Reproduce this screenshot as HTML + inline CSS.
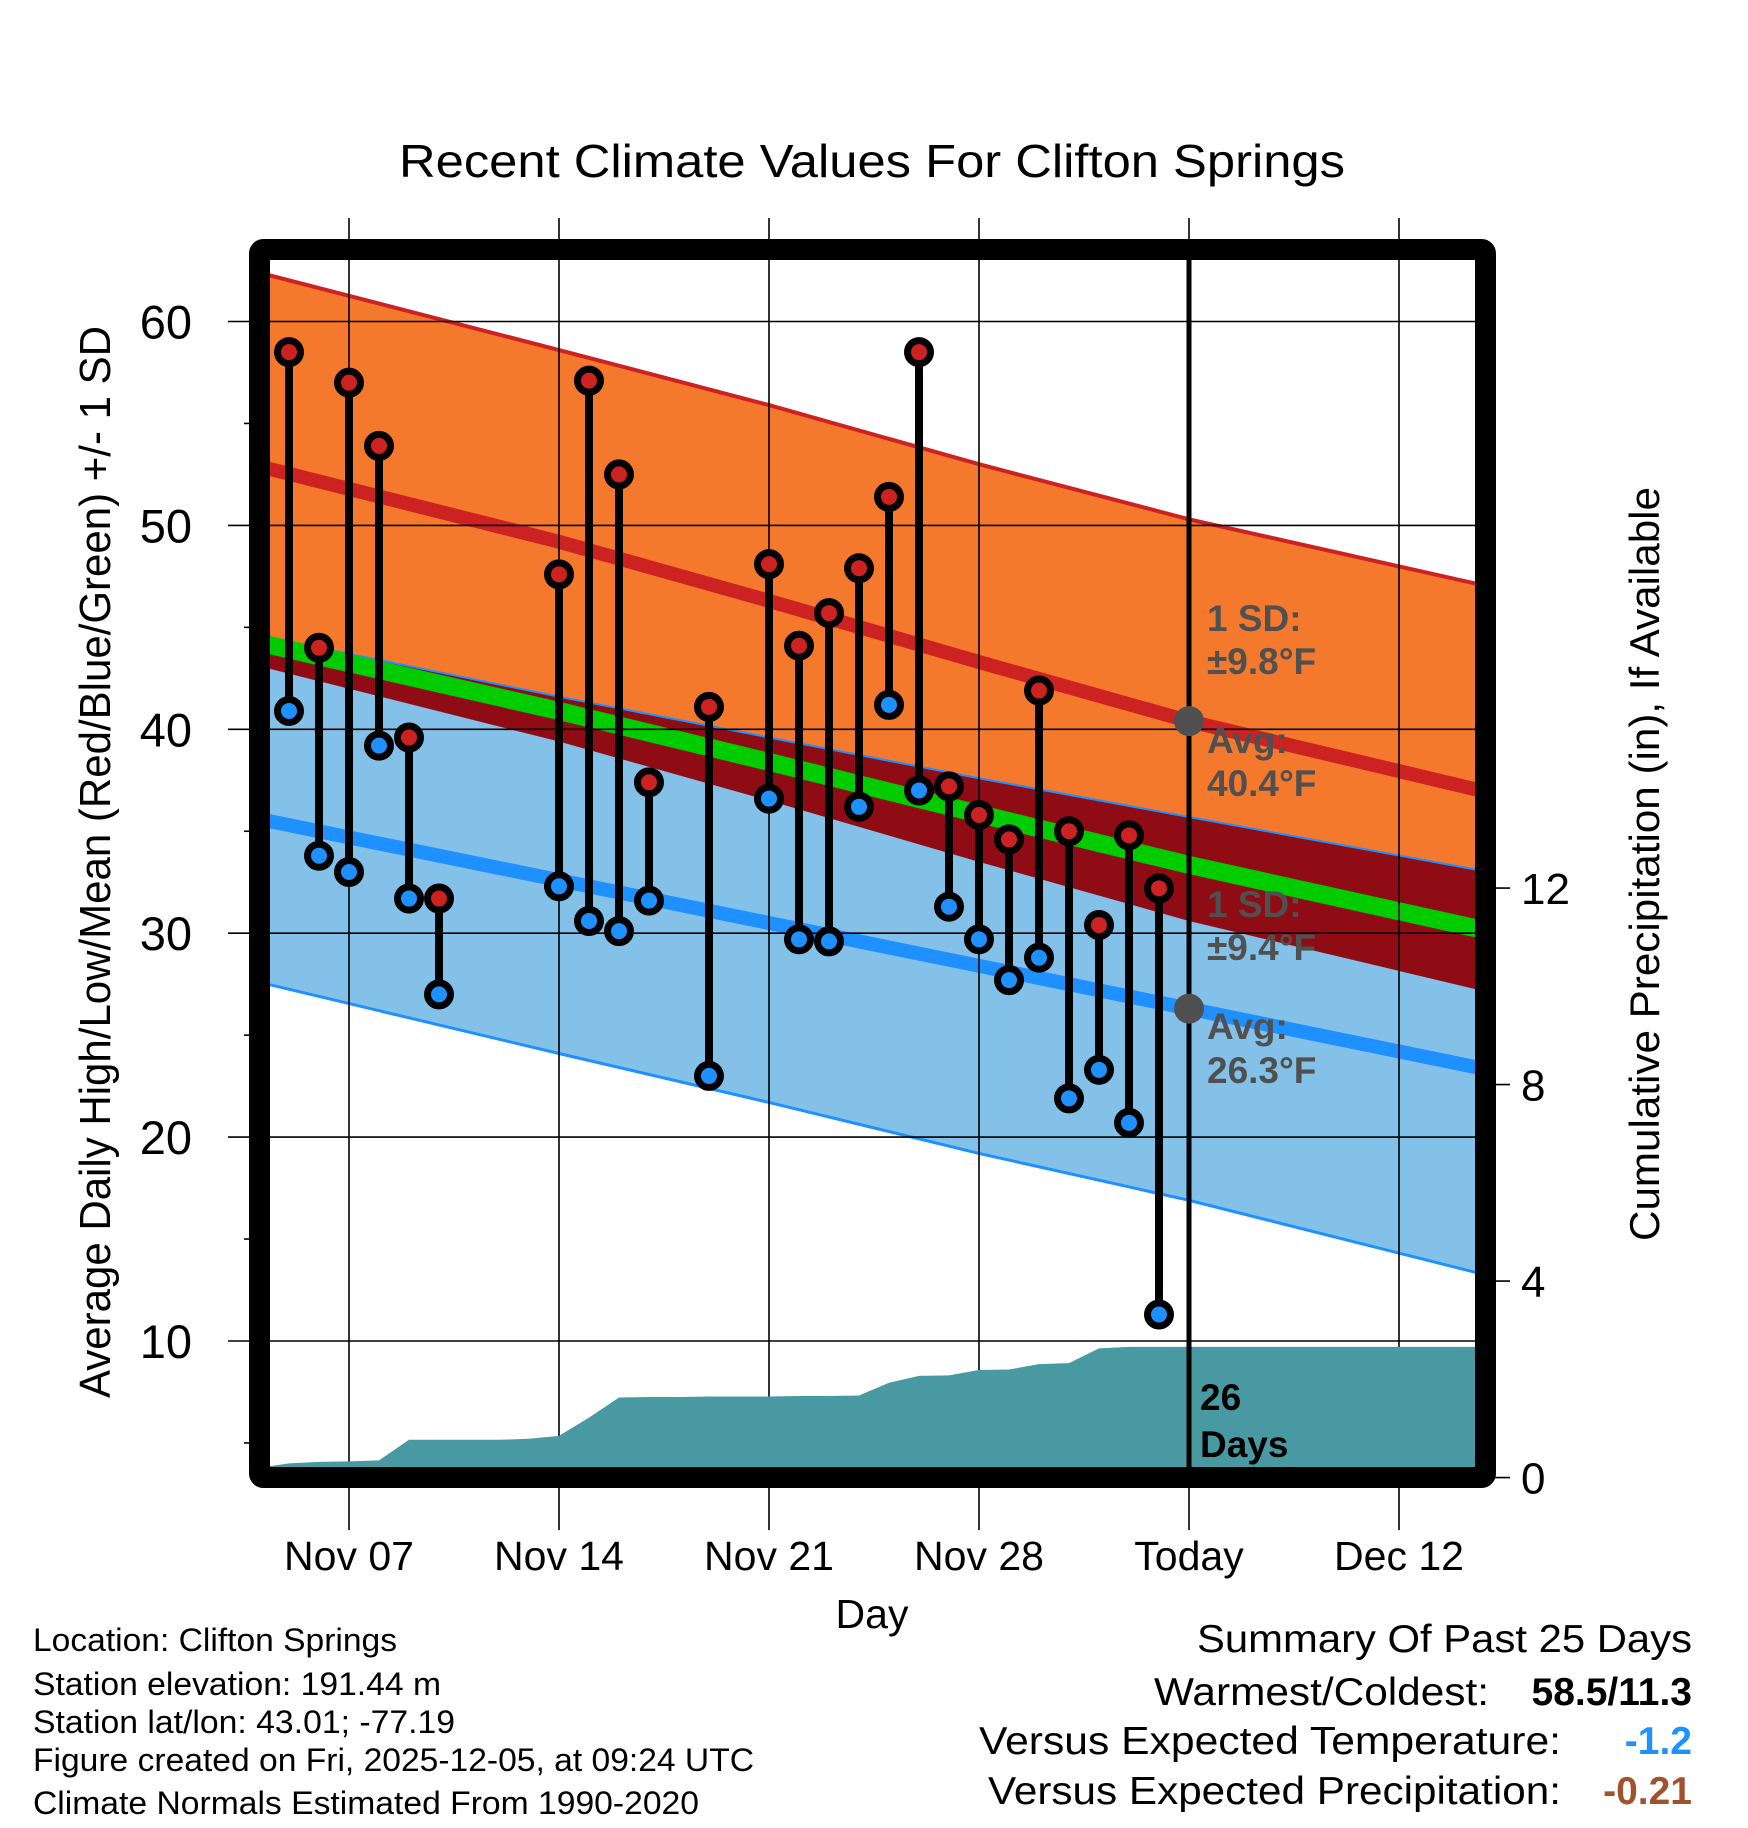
<!DOCTYPE html>
<html><head><meta charset="utf-8"><title>Recent Climate Values For Clifton Springs</title>
<style>
html,body{margin:0;padding:0;background:#fff;}
svg{display:block;font-family:"Liberation Sans",Arial,sans-serif;}
</style></head>
<body>
<svg id="chart" xmlns="http://www.w3.org/2000/svg" width="1748" height="1828" viewBox="0 0 1748 1828">
<defs><clipPath id="plotclip"><rect x="270" y="260" width="1207" height="1208"/></clipPath></defs>
<rect x="0" y="0" width="1748" height="1828" fill="#fff"/>
<text x="872" y="177" font-size="46" text-anchor="middle" textLength="946" lengthAdjust="spacingAndGlyphs">Recent Climate Values For Clifton Springs</text>
<g id="bands" clip-path="url(#plotclip)"></g>
<g id="grid"></g>
<g id="precip" clip-path="url(#plotclip)"></g>
<g id="today"></g>
<g id="stems"></g>
<g id="annot" font-weight="bold" font-size="37" fill="#505050">
<text x="1207" y="631">1 SD:</text>
<text x="1207" y="674">±9.8°F</text>
<text x="1207" y="753">Avg:</text>
<text x="1207" y="796">40.4°F</text>
<text x="1207" y="917">1 SD:</text>
<text x="1207" y="960">±9.4°F</text>
<text x="1207" y="1039">Avg:</text>
<text x="1207" y="1083">26.3°F</text>
</g>
<g font-weight="bold" font-size="37" fill="#000">
<text x="1200" y="1410">26</text>
<text x="1200" y="1457">Days</text>
</g>
<rect x="259.5" y="249.5" width="1226" height="1228" fill="none" stroke="#000" stroke-width="21" rx="4"/>
<g id="axes"></g>
<text transform="translate(110,862) rotate(-90)" font-size="44" text-anchor="middle" textLength="1072" lengthAdjust="spacingAndGlyphs">Average Daily High/Low/Mean (Red/Blue/Green) +/- 1 SD</text>
<text transform="translate(1659,864) rotate(-90)" font-size="42" text-anchor="middle" textLength="754" lengthAdjust="spacingAndGlyphs">Cumulative Precipitation (in), If Available</text>
<text x="872" y="1628" font-size="41" text-anchor="middle">Day</text>
<g font-size="32">
<text x="33" y="1651" textLength="364" lengthAdjust="spacingAndGlyphs">Location: Clifton Springs</text>
<text x="33" y="1695" textLength="408" lengthAdjust="spacingAndGlyphs">Station elevation: 191.44 m</text>
<text x="33" y="1733" textLength="422" lengthAdjust="spacingAndGlyphs">Station lat/lon: 43.01; -77.19</text>
<text x="33" y="1771" textLength="721" lengthAdjust="spacingAndGlyphs">Figure created on Fri, 2025-12-05, at 09:24 UTC</text>
<text x="33" y="1814" textLength="666" lengthAdjust="spacingAndGlyphs">Climate Normals Estimated From 1990-2020</text>
</g>
<g font-size="39">
<text x="1197" y="1652" textLength="495" lengthAdjust="spacingAndGlyphs">Summary Of Past 25 Days</text>
<text x="1154" y="1705" textLength="335" lengthAdjust="spacingAndGlyphs">Warmest/Coldest:</text>
<text x="1692" y="1705" text-anchor="end" font-weight="bold">58.5/11.3</text>
<text x="979" y="1754" textLength="582" lengthAdjust="spacingAndGlyphs">Versus Expected Temperature:</text>
<text x="1692" y="1754" text-anchor="end" font-weight="bold" fill="#1e90ff">-1.2</text>
<text x="988" y="1804" textLength="573" lengthAdjust="spacingAndGlyphs">Versus Expected Precipitation:</text>
<text x="1692" y="1804" text-anchor="end" font-weight="bold" fill="#a0522d">-0.21</text>
</g>
</svg>
<script>
// ---- data ----
const obsDays = [5,6,7,8,9,10,14,15,16,17,19,21,22,23,24,25,26,27,28,29,30,31,32,33,34]; // day of Nov (Dec k = 30+k)
const highs = [58.5,44.0,57.0,53.9,39.6,31.7,47.6,57.1,52.5,37.4,41.1,48.1,44.1,45.7,47.9,51.4,58.5,37.2,35.8,34.6,41.9,35.0,30.4,34.8,32.2];
const lows  = [40.9,33.8,33.0,39.2,31.7,27.0,32.3,30.6,30.1,31.6,23.0,36.6,29.7,29.6,36.2,41.2,37.0,31.3,29.7,27.7,28.8,21.9,23.3,20.7,11.3];
const normDays = [4,14,21,28,35,45];
const highUpper = [62.4,58.6,55.9,53.0,50.3,47.0];
const highMean  = [52.9,49.2,46.3,43.3,40.4,36.9];
const highLower = [43.1,39.4,36.5,33.5,30.6,27.1];
const lowUpper  = [44.6,41.6,39.6,37.6,35.7,33.0];
const lowMean   = [35.6,32.6,30.5,28.4,26.3,23.3];
const lowLower  = [27.6,24.1,21.7,19.2,16.9,13.2];
const precipStartDay = 4;
const precipCum = [0.20,0.29,0.32,0.33,0.35,0.77,0.77,0.77,0.77,0.79,0.85,1.22,1.63,1.64,1.64,1.65,1.65,1.65,1.66,1.66,1.67,1.93,2.07,2.08,2.19,2.20,2.31,2.33,2.63,2.66,2.66];
const xTickDays = [7,14,21,28,35,42];
const xTickLabels = ["Nov 07","Nov 14","Nov 21","Nov 28","Today","Dec 12"];
const yTicks = [10,20,30,40,50,60];
const yMinor = [5,15,25,35,45,55];
const pTicks = [0,4,8,12];
const todayDay = 35;

// ---- scales ----
const NS = "http://www.w3.org/2000/svg";
function xS(d){ return 349 + (d-7)*30; }
function yT(v){ return 1341 + (10 - v)*20.39; }
function yP(p){ return 1477.6 - p*49.13; }
function mk(tag, attrs, parent){ const e=document.createElementNS(NS,tag); for(const k in attrs) e.setAttribute(k,attrs[k]); parent.appendChild(e); return e; }
function linePts(arr){ return normDays.map((d,i)=>xS(d)+","+yT(arr[i])).join(" "); }
function bandPts(top,bot){ const a=normDays.map((d,i)=>xS(d)+","+yT(top[i])); const b=normDays.map((d,i)=>xS(d)+","+yT(bot[i])).reverse(); return a.concat(b).join(" "); }

const bands=document.getElementById("bands");
let e;
e=mk("polygon",{points:bandPts(highUpper,highLower),fill:"#f5792d"},bands);
 
e=mk("polygon",{points:bandPts(lowUpper,lowLower),fill:"#84c1e8"},bands);
 
const ovTop=normDays.map((d,i)=>Math.min(lowUpper[i],highUpper[i]));
const ovBot=normDays.map((d,i)=>Math.max(highLower[i],lowLower[i]));
e=mk("polygon",{points:bandPts(ovTop,ovBot),fill:"#900c14"},bands);
 
e=mk("polyline",{points:linePts(lowUpper),fill:"none",stroke:"#1e90ff","stroke-width":2},bands);
 
e=mk("polyline",{points:linePts(lowLower),fill:"none",stroke:"#1e90ff","stroke-width":3},bands);
 
e=mk("polyline",{points:linePts(highUpper),fill:"none",stroke:"#cc2222","stroke-width":4},bands);
 
e=mk("polyline",{points:linePts(highMean),fill:"none",stroke:"#cc2222","stroke-width":14},bands);
 
e=mk("polyline",{points:linePts(lowMean),fill:"none",stroke:"#1e90ff","stroke-width":14},bands);
 
const midMean=normDays.map((d,i)=>(highMean[i]+lowMean[i])/2);
e=mk("polyline",{points:linePts(midMean),fill:"none",stroke:"#00cc00","stroke-width":18},bands);
 

// grid
const grid=document.getElementById("grid");
xTickDays.forEach((d,i)=>{
  if(d===todayDay) return;
  const g=mk("line",{x1:xS(d),x2:xS(d),y1:218,y2:1530,stroke:"#000","stroke-width":1.6},grid);
   
});
yTicks.forEach(v=>{
  const g=mk("line",{x1:228,x2:1477,y1:yT(v),y2:yT(v),stroke:"#000","stroke-width":1.6},grid);
   
});

// precip
const pr=document.getElementById("precip");
const ppts=[];
precipCum.forEach((p,i)=>ppts.push(xS(precipStartDay+i)+","+yP(p)));
ppts.push(xS(47)+","+yP(precipCum[precipCum.length-1]));
ppts.push(xS(47)+","+yP(0)); ppts.push(xS(precipStartDay)+","+yP(0));
e=mk("polygon",{points:ppts.join(" "),fill:"#4899a2"},pr);
 

// today line
const td=document.getElementById("today");
e=mk("line",{x1:xS(todayDay),x2:xS(todayDay),y1:218,y2:1530,stroke:"#000","stroke-width":1.6},td);
 
e=mk("line",{x1:xS(todayDay),x2:xS(todayDay),y1:260,y2:1468,stroke:"#000","stroke-width":5},td);
 
e=mk("circle",{cx:xS(todayDay),cy:yT(highMean[4]),r:15,fill:"#505050"},td);
 
e=mk("circle",{cx:xS(todayDay),cy:yT(lowMean[4]),r:15,fill:"#505050"},td);
 

// stems
const st=document.getElementById("stems");
obsDays.forEach((d,i)=>{
  const x=xS(d);
  const l=mk("line",{x1:x,x2:x,y1:yT(highs[i]),y2:yT(lows[i]),stroke:"#000","stroke-width":8},st);
   
  const h=mk("circle",{cx:x,cy:yT(highs[i]),r:11.5,fill:"#cc2222",stroke:"#000","stroke-width":7},st);
   
  const lo=mk("circle",{cx:x,cy:yT(lows[i]),r:11.5,fill:"#1e90ff",stroke:"#000","stroke-width":7},st);
   
});

// axes ticks & labels
const ax=document.getElementById("axes");
yTicks.forEach(v=>{
  const t=mk("text",{x:192,y:yT(v)+17,"font-size":47,"text-anchor":"end"},ax);
  t.textContent=String(v);
   
});
yMinor.forEach(v=>{
  const t=mk("line",{x1:244,x2:250,y1:yT(v),y2:yT(v),stroke:"#000","stroke-width":1.6},ax);
   
});
pTicks.forEach(p=>{
  const t=mk("line",{x1:1486,x2:1510,y1:yP(p),y2:yP(p),stroke:"#000","stroke-width":1.6},ax);
   
  const lb=mk("text",{x:1521,y:yP(p)+16,"font-size":44},ax);
  lb.textContent=String(p);
   
});
xTickDays.forEach((d,i)=>{
  const t=mk("text",{x:xS(d),y:1570,"font-size":41,"text-anchor":"middle"},ax);
  t.textContent=xTickLabels[i];
   
});
</script>
</body></html>
